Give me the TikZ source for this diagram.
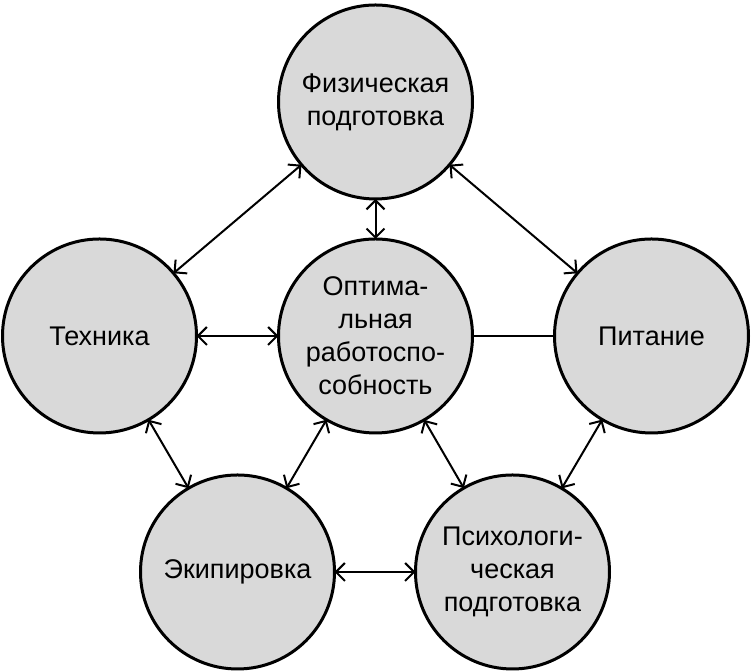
\documentclass[tikz,border=0pt]{standalone}
\usepackage{fontspec}
\setmainfont{Liberation Sans}
\usepackage{tikz}
\usetikzlibrary{arrows.meta}

\begin{document}
\begin{tikzpicture}[x=0.5pt, y=0.5pt, >={Straight Barb[length=4.5pt,width=9pt]}, line join=round,
  krug/.style={circle, draw, line width=1.5pt, fill=black!15, minimum size=97pt, inner sep=0pt, outer sep=0pt, align=center, font=\fontsize{13.5}{16.5}\selectfont},
  svyaz/.style={line width=1pt}]
  \useasboundingbox (0,0) rectangle (751,672);
  \node[krug] (fiz) at (375.5,570) {Физическая\\подготовка};
  \node[krug] (opt) at (375.5,336) {Оптима-\\льная\\работоспо-\\собность};
  \node[krug] (tech) at (99.5,336) {Техника};
  \node[krug] (pit) at (651.5,336) {Питание};
  \node[krug] (ekip) at (237.5,100) {Экипировка};
  \node[krug] (psih) at (512.5,100) {Психологи-\\ческая\\подготовка};
  \draw[svyaz,<->] (fiz) -- (tech);
  \draw[svyaz,<->] (fiz) -- (pit);
  \draw[svyaz,<->] (fiz) -- (opt);
  \draw[svyaz,<->] (tech) -- (opt);
  \draw[svyaz] (opt) -- (pit);
  \draw[svyaz,<->] (tech) -- (ekip);
  \draw[svyaz,<->] (opt) -- (ekip);
  \draw[svyaz,<->] (opt) -- (psih);
  \draw[svyaz,<->] (pit) -- (psih);
  \draw[svyaz,<->] (ekip) -- (psih);
\end{tikzpicture}
\end{document}
